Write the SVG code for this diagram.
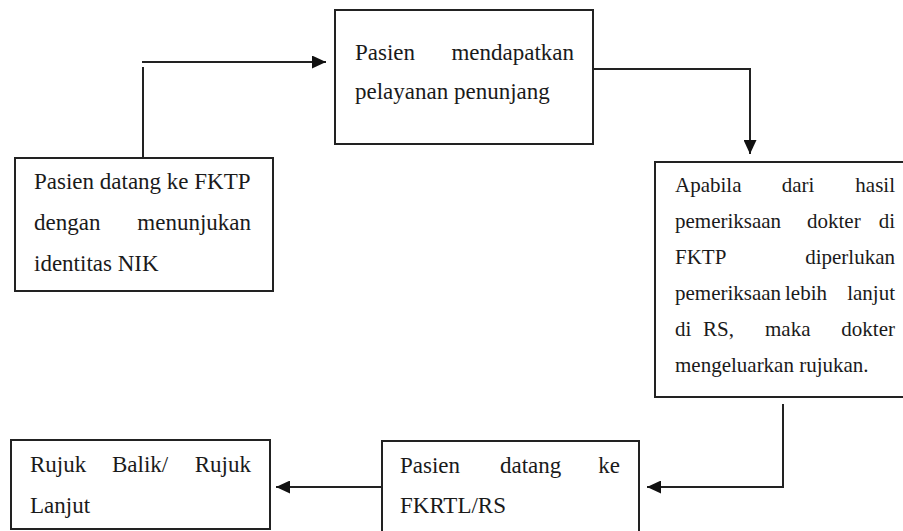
<svg xmlns="http://www.w3.org/2000/svg" width="903" height="531" viewBox="0 0 903 531">
<style>
.box{fill:#fff;stroke:#222;stroke-width:2}
text{font-size:23px;fill:#1a1a1a}
.s{font-size:21px}
.c{fill:none;stroke:#222;stroke-width:2}
</style>
<defs>
<marker id="ah" markerUnits="userSpaceOnUse" markerWidth="15" markerHeight="13" refX="14" refY="6.5" orient="auto">
<path d="M0,0 L14,6.5 L0,13 z" fill="#111"/>
</marker>
</defs>
<rect width="903" height="531" fill="#fff"/>
<g id="connectors">
<line class="c" x1="143" y1="158" x2="143" y2="67"/>
<line class="c" x1="142" y1="62" x2="326" y2="62" marker-end="url(#ah)"/>
<polyline class="c" points="593,69 750,69 750,154" marker-end="url(#ah)"/>
<polyline class="c" points="783,404 783,487 647,487" marker-end="url(#ah)"/>
<line class="c" x1="382" y1="487" x2="276" y2="487" marker-end="url(#ah)"/>
</g>
<g font-family="Liberation Serif, DejaVu Serif, serif">
<g id="node1">
<rect class="box" x="15" y="158" width="258" height="133"/>
<text x="34" y="189">Pasien datang ke FKTP</text>
<text x="34" y="230">dengan</text>
<text x="251" y="230" text-anchor="end">menunjukan</text>
<text x="34" y="271">identitas NIK</text>
</g>
<g id="node2">
<rect class="box" x="335" y="10" width="258" height="134"/>
<text x="355" y="60">Pasien</text>
<text x="574" y="60" text-anchor="end">mendapatkan</text>
<text x="355" y="99">pelayanan penunjang</text>
</g>
<g id="node3">
<rect class="box" x="655" y="162" width="260" height="235"/>
<text class="s" x="675" y="192">Apabila</text>
<text class="s" x="798" y="192" text-anchor="middle">dari</text>
<text class="s" x="895" y="192" text-anchor="end">hasil</text>
<text class="s" x="675" y="228">pemeriksaan</text>
<text class="s" x="807" y="228">dokter</text>
<text class="s" x="895" y="228" text-anchor="end">di</text>
<text class="s" x="675" y="264">FKTP</text>
<text class="s" x="895" y="264" text-anchor="end">diperlukan</text>
<text class="s" x="675" y="300">pemeriksaan</text>
<text class="s" x="785" y="300">lebih</text>
<text class="s" x="895" y="300" text-anchor="end">lanjut</text>
<text class="s" x="675" y="336">di</text>
<text class="s" x="703" y="336">RS,</text>
<text class="s" x="765" y="336">maka</text>
<text class="s" x="895" y="336" text-anchor="end">dokter</text>
<text class="s" x="675" y="372">mengeluarkan rujukan.</text>
</g>
<g id="node4">
<rect class="box" x="382" y="441" width="257" height="110"/>
<text x="400" y="473">Pasien</text>
<text x="500" y="473">datang</text>
<text x="620" y="473" text-anchor="end">ke</text>
<text x="400" y="513">FKRTL/RS</text>
</g>
<g id="node5">
<rect class="box" x="11" y="440" width="259" height="89"/>
<text x="30" y="472">Rujuk</text>
<text x="112" y="472">Balik/</text>
<text x="251" y="472" text-anchor="end">Rujuk</text>
<text x="30" y="513">Lanjut</text>
</g>
</g>
</svg>
